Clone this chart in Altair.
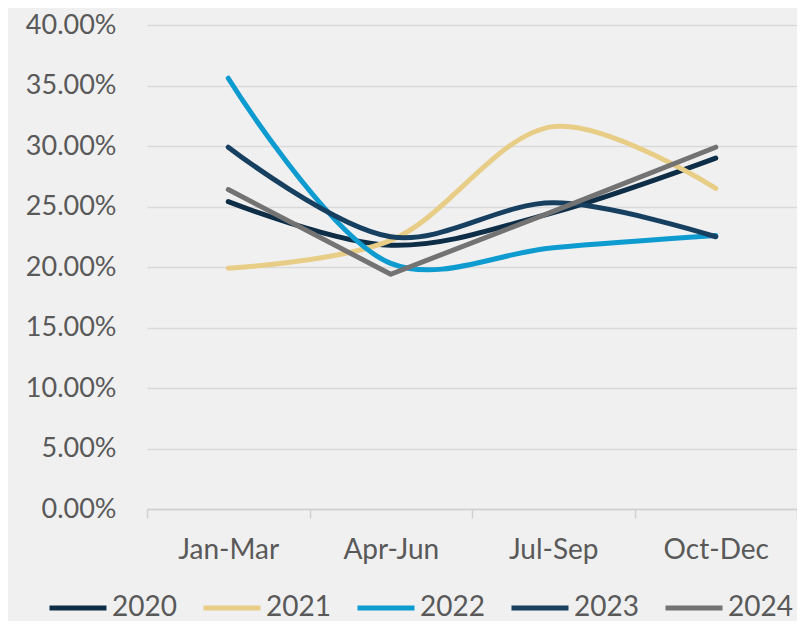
import altair as alt
import pandas as pd

quarters = ["Jan-Mar", "Apr-Jun", "Jul-Sep", "Oct-Dec"]
years = ["2020", "2021", "2022", "2023", "2024"]
v2020 = [0.254, 0.218, 0.245, 0.290]
v2021 = [0.199, 0.222, 0.316, 0.265]
v2022 = [0.356, 0.203, 0.216, 0.226]
v2023 = [0.299, 0.225, 0.253, 0.225]
v2024 = [0.264, 0.194, 0.246, 0.299]
colors = ["#0e2d47", "#e8cd87", "#0e9bd0", "#173f5f", "#737373"]

series = [v2020, v2021, v2022, v2023, v2024]
rows = []
for y, vals in zip(years, series):
    for q, v in zip(quarters, vals):
        rows.append({"Quarter": q, "Year": y, "Value": v})
df = pd.DataFrame(rows)

font = "Lato"
label_color = "#595959"

x_enc = alt.X("Quarter:N", sort=quarters, title=None,
              scale=alt.Scale(paddingInner=0, paddingOuter=0),
              axis=alt.Axis(labelAngle=0, labelFontSize=28, labelColor=label_color,
                            labelFont=font, labelPadding=18, domainColor="#d0d0d0",
                            domainWidth=1.5, tickColor="#d0d0d0", tickWidth=1.5,
                            tickSize=9, tickBand="extent", grid=False))
y_enc = alt.Y("Value:Q", title=None,
              scale=alt.Scale(domain=[0, 0.4], nice=False),
              axis=alt.Axis(format=".2%", values=[i * 0.05 for i in range(9)],
                            labelFontSize=27, labelColor=label_color, labelFont=font,
                            labelPadding=31, domain=False, ticks=False,
                            gridColor="#d9d9d9", gridWidth=1.5))
color_enc = alt.Color("Year:N", sort=years,
                      scale=alt.Scale(domain=years, range=colors),
                      legend=alt.Legend(title=None, orient="none", direction="horizontal",
                                        legendX=-100, legendY=552,
                                        symbolType="stroke", symbolSize=3249,
                                        symbolStrokeWidth=5, labelFontSize=28,
                                        labelFont=font, labelColor=label_color,
                                        labelOffset=3, columnPadding=16))

base = alt.Chart(df)
smooth = base.transform_filter(alt.datum.Year != "2024").mark_line(
    interpolate="catmull-rom", strokeWidth=5, strokeCap="round", strokeJoin="round"
).encode(x=x_enc, y=y_enc, color=color_enc)
straight = base.transform_filter(alt.datum.Year == "2024").mark_line(
    interpolate="linear", strokeWidth=5, strokeCap="round", strokeJoin="round"
).encode(x=x_enc, y=y_enc, color=color_enc)

chart = alt.layer(smooth, straight).properties(
    width=650, height=484,
    autosize=alt.AutoSizeParams(type="none"),
    padding={"left": 139, "top": 17, "right": 0, "bottom": 112},
    background="#f0f0f0",
).configure_view(stroke=None)

chart.save("out.html", embed_options={"renderer": "svg", "actions": False})
